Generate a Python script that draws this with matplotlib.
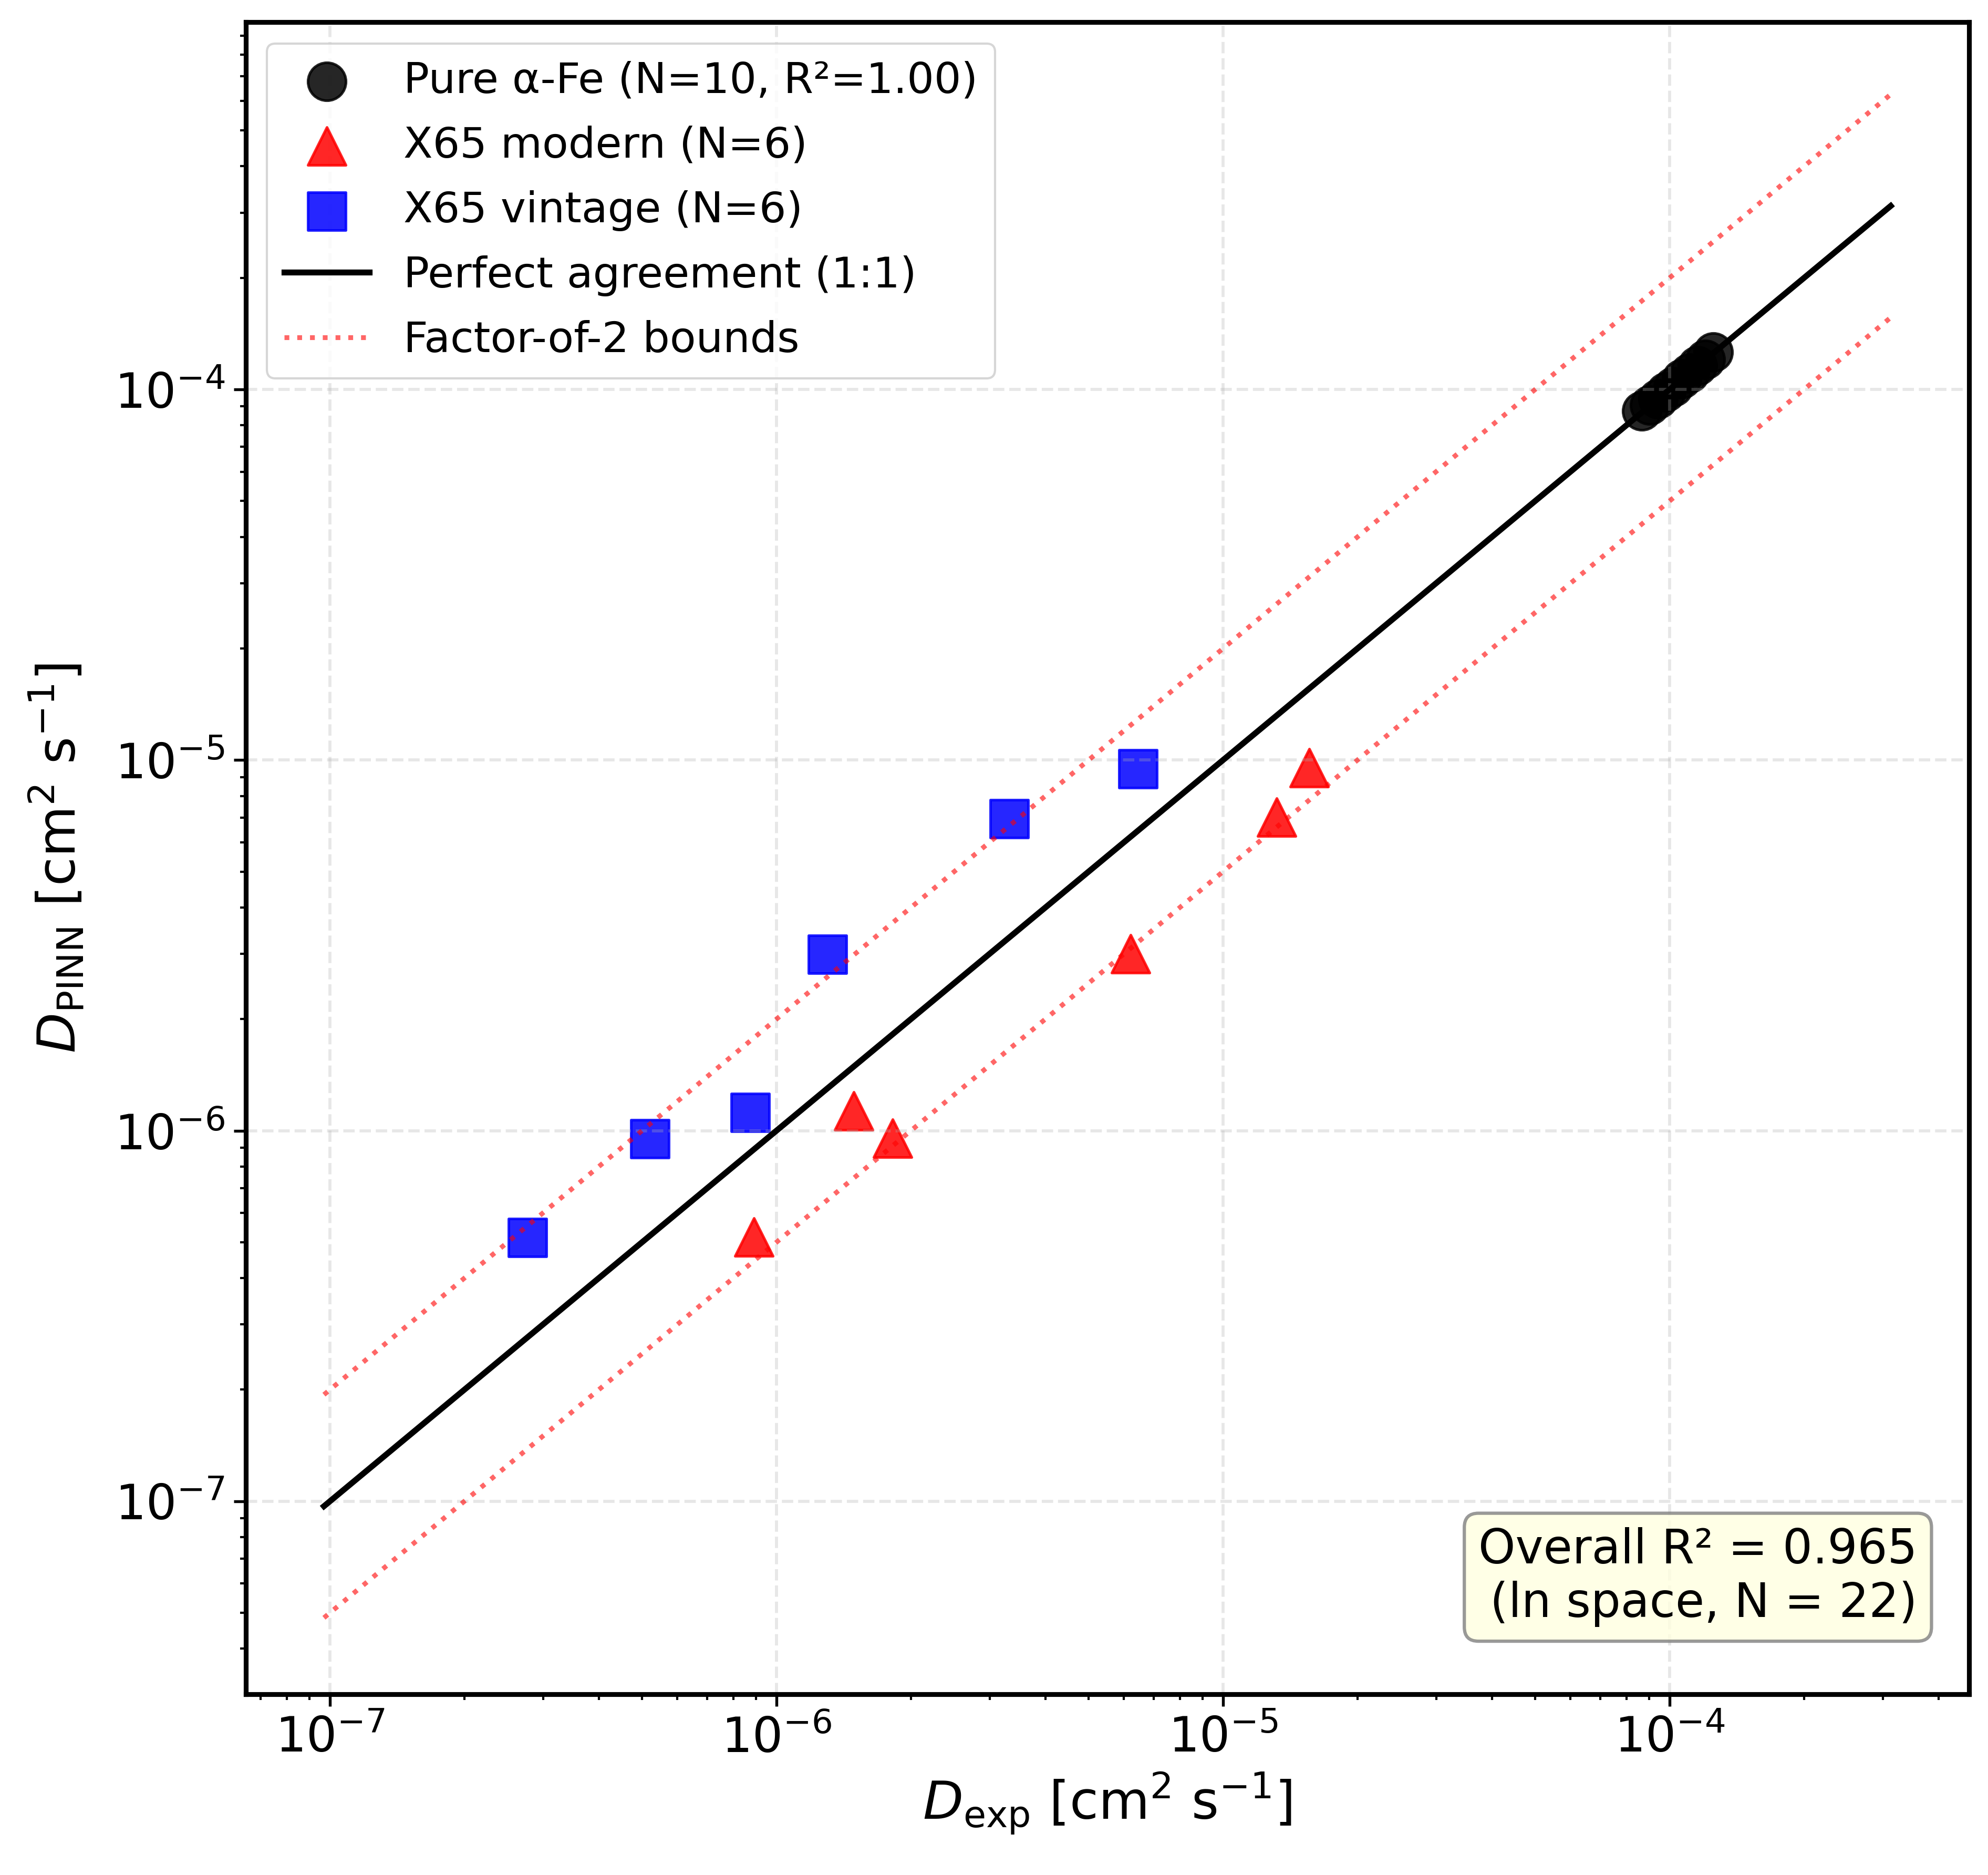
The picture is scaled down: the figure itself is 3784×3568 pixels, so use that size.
import matplotlib

matplotlib.use("Agg")
import matplotlib.pyplot as plt  # noqa: E402

# valori (cm^2 s^-1)
fe_exp = [8.67e-5, 9.03e-5, 9.41e-5, 9.80e-5, 1.020e-4, 1.063e-4, 1.107e-4, 1.153e-4, 1.201e-4, 1.251e-4]
fe_pinn = [8.75e-5, 9.06e-5, 9.44e-5, 9.83e-5, 1.018e-4, 1.066e-4, 1.105e-4, 1.157e-4, 1.205e-4, 1.262e-4]

modern_exp = [8.90e-7, 1.49e-6, 1.82e-6, 6.21e-6, 1.32e-5, 1.56e-5]
modern_pinn = [5.16e-7, 1.13e-6, 9.55e-7, 3.00e-6, 7.02e-6, 9.53e-6]

vintage_exp = [2.77e-7, 5.20e-7, 8.74e-7, 1.30e-6, 3.32e-6, 6.44e-6]
vintage_pinn = [5.14e-7, 9.51e-7, 1.12e-6, 2.99e-6, 6.94e-6, 9.48e-6]

overall_r2 = 0.965
n_total = len(fe_exp) + len(modern_exp) + len(vintage_exp)

W, H, DPI = 3784, 3568, 300
fig = plt.figure(figsize=(W / DPI, H / DPI), dpi=DPI)
ax = fig.add_axes([467.5 / W, 1 - 3223.5 / H, 3280.5 / W, 3181.5 / H])

ms = 300
ax.scatter(fe_exp, fe_pinn, s=ms, marker="o", color="black", alpha=0.85,
           linewidths=1.2, label="Pure α-Fe (N=10, R²=1.00)")
ax.scatter(modern_exp, modern_pinn, s=ms, marker="^", color="red", alpha=0.85,
           linewidths=1.2, label="X65 modern (N=6)")
ax.scatter(vintage_exp, vintage_pinn, s=ms, marker="s", color="blue", alpha=0.85,
           linewidths=1.2, label="X65 vintage (N=6)")

all_x = fe_exp + modern_exp + vintage_exp
lo, hi = min(all_x) * 0.35, max(all_x) * 2.5
ax.plot([lo, hi], [lo, hi], color="black", lw=2.7, label="Perfect agreement (1:1)")
ax.plot([lo, hi], [2 * lo, 2 * hi], color="red", ls=":", lw=2.2, alpha=0.6,
        label="Factor-of-2 bounds")
ax.plot([lo, hi], [0.5 * lo, 0.5 * hi], color="red", ls=":", lw=2.2, alpha=0.6)

ax.set_xscale("log")
ax.set_yscale("log")
ax.set_ylim(top=9.8e-4)
ax.grid(True, which="major", linestyle="--", alpha=0.3, linewidth=1.4)

ax.set_xlabel(r"$D_{\mathrm{exp}}$ [cm$^2$ s$^{-1}$]", fontsize=24)
ax.set_ylabel(r"$D_{\mathrm{PINN}}$ [cm$^2$ s$^{-1}$]", fontsize=24, labelpad=12.5)
ax.tick_params(which="major", labelsize=22, length=5.5, width=1.3, pad=4)
ax.tick_params(which="minor", length=2.7, width=1.0)
for sp in ax.spines.values():
    sp.set_linewidth(2.2)

ax.legend(loc="upper left", fontsize=19.5, labelspacing=0.56)

ax.text(0.97, 0.04, f"Overall R² = {overall_r2:.3f}\n(ln space, N = {n_total})",
        transform=ax.transAxes, ha="right", va="bottom", fontsize=21.5,
        bbox={"boxstyle": "round", "facecolor": "lightyellow", "edgecolor": "gray",
              "alpha": 0.8, "linewidth": 1.5})

fig.savefig("out.png", dpi=DPI)
